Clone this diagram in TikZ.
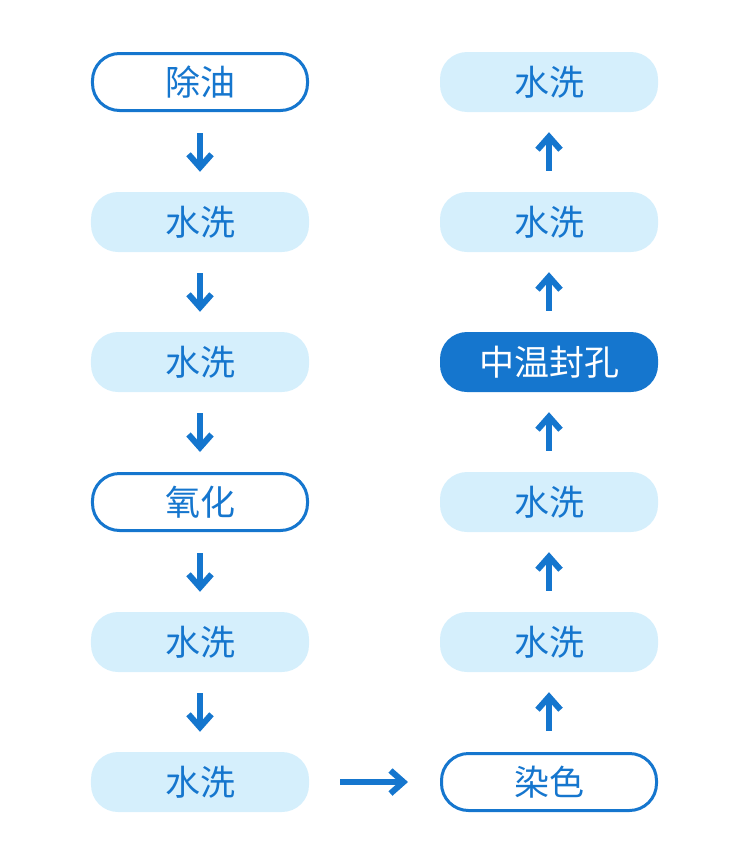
\documentclass[tikz,border=0pt]{standalone}
\usepackage{fontspec}
\setmainfont{Noto Sans CJK SC}
\usetikzlibrary{arrows.meta}
\definecolor{mblue}{HTML}{1576CE}
\definecolor{mlight}{HTML}{D5EFFC}
\begin{document}
\begin{tikzpicture}[x=1bp,y=-1bp,
  base/.style={rounded corners=27bp, align=center, inner sep=0pt, font=\fontsize{35bp}{40bp}\selectfont},
  outbox/.style={base, draw=mblue, line width=3bp, fill=white, text=mblue, minimum width=215bp, minimum height=57bp},
  washbox/.style={base, fill=mlight, text=mblue, minimum width=218bp, minimum height=60bp},
  keybox/.style={base, fill=mblue, text=white, minimum width=218bp, minimum height=60bp},
  flow/.style={draw=mblue, line width=5.5bp, -{Straight Barb[length=13bp,width=23bp,line width=6bp]}, shorten <=21bp, shorten >=20bp}
]
\useasboundingbox (0,0) rectangle (750,868);
\node[outbox]  (L1) at (200,82)  {除油};
\node[washbox] (L2) at (200,222) {水洗};
\node[washbox] (L3) at (200,362) {水洗};
\node[outbox]  (L4) at (200,502) {氧化};
\node[washbox] (L5) at (200,642) {水洗};
\node[washbox] (L6) at (200,782) {水洗};
\node[outbox]  (R6) at (549,782) {染色};
\node[washbox] (R5) at (549,642) {水洗};
\node[washbox] (R4) at (549,502) {水洗};
\node[keybox]  (R3) at (549,362) {中温封孔};
\node[washbox] (R2) at (549,222) {水洗};
\node[washbox] (R1) at (549,82)  {水洗};
\draw[flow] (L1) -- (L2);
\draw[flow] (L2) -- (L3);
\draw[flow] (L3) -- (L4);
\draw[flow] (L4) -- (L5);
\draw[flow] (L5) -- (L6);
\draw[flow, shorten <=31bp, shorten >=32bp] (L6) -- (R6);
\draw[flow] (R6) -- (R5);
\draw[flow] (R5) -- (R4);
\draw[flow] (R4) -- (R3);
\draw[flow] (R3) -- (R2);
\draw[flow] (R2) -- (R1);
\end{tikzpicture}
\end{document}
